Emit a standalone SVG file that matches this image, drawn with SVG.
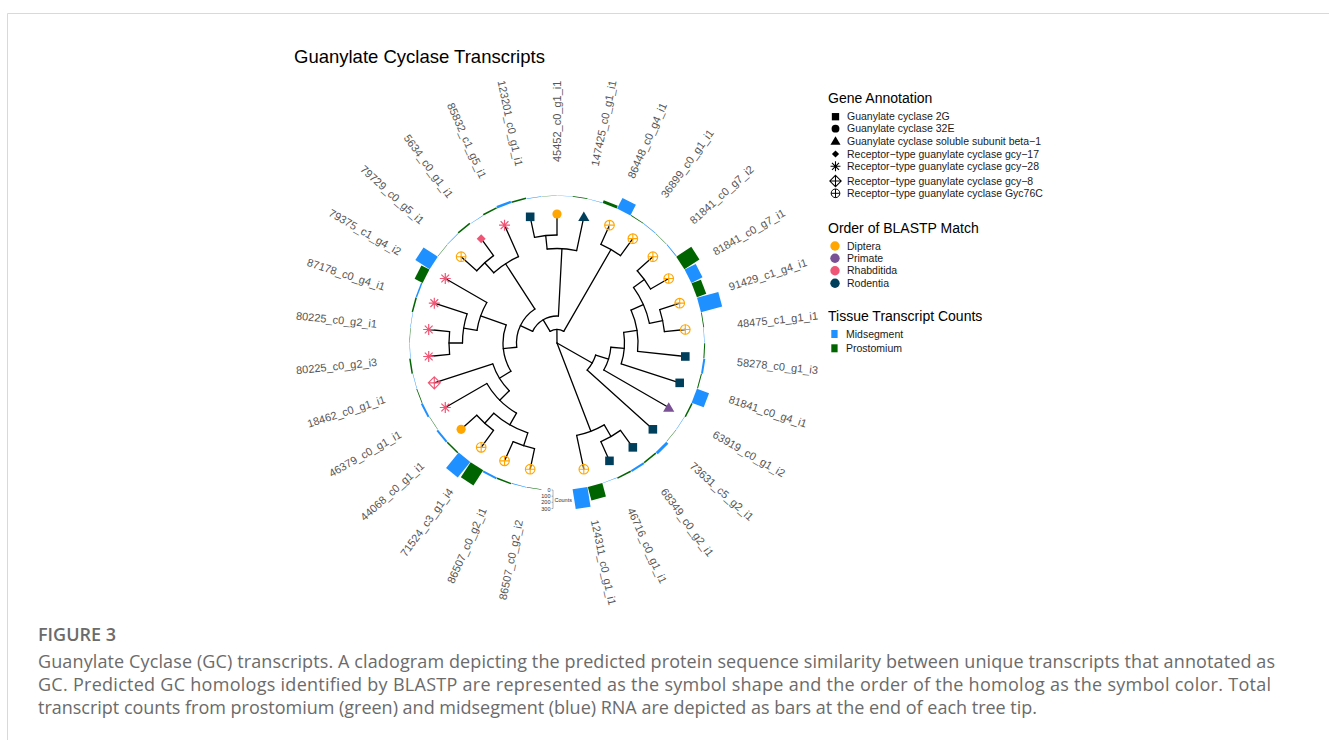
<svg xmlns="http://www.w3.org/2000/svg" xmlns:xlink="http://www.w3.org/1999/xlink" width="1329" height="740" viewBox="0 0 1329 740">
<style>
.br{stroke:#000;stroke-width:1.3;fill:none;stroke-linecap:round}
.lab{font-family:'Liberation Sans',Arial,sans-serif;font-size:11px;fill:#555}
.lg{font-family:'Liberation Sans',Arial,sans-serif;font-size:10.5px;fill:#1a1a1a}
.lt{font-family:'Liberation Sans',Arial,sans-serif;font-size:14px;fill:#000}
.cap{font-family:'Open Sans','Liberation Sans',sans-serif;font-size:18px;fill:#6b6b6b}
.mid{fill:#1E90FF}
.pro{fill:#006400}
.ax{font-family:'Liberation Sans',Arial,sans-serif;font-size:5.5px;fill:#333}
</style>
<defs>
<rect id="sq" x="-4.3" y="-4.3" width="8.6" height="8.6"/>
<circle id="ci" r="4.6"/>
<path id="tr" d="M0 -5.2L5.6 4.3H-5.6Z"/>
<path id="dm" d="M0 -4.5L4.5 0L0 4.5L-4.5 0Z"/>
<path id="st" fill="none" stroke-width="1.2" d="M-5.5 0H5.5M0 -5.5V5.5M-3.9 -3.9L3.9 3.9M-3.9 3.9L3.9 -3.9"/>
<path id="dp" fill="none" stroke-width="1.1" d="M0 -6L6 0L0 6L-6 0ZM-6 0H6M0 -6V6"/>
<g id="cp" fill="none" stroke-width="1.1"><circle r="4.8"/><path d="M-4.8 0H4.8M0 -4.8V4.8"/></g>
</defs>
<rect width="1329" height="740" fill="#fff"/>
<path d="M7.5 740V13.5H1329" fill="none" stroke="#d9d9d9" stroke-width="1"/>
<text x="294" y="63" font-family="'Liberation Sans',Arial,sans-serif" font-size="18.5" fill="#000">Guanylate Cyclase Transcripts</text>

<g id="connectors" transform="translate(557,343)">
<g class="br">
<line x1="0" x2="13.5" transform="rotate(269.625)"/>
<line x1="0" x2="40.5" transform="rotate(29.625)"/>
<line x1="0" x2="94.5" transform="rotate(69)"/>
<line x1="13.5" x2="27" transform="rotate(239.25)"/>
<line x1="13.5" x2="108" transform="rotate(300)"/>
<line x1="27" x2="40.5" transform="rotate(205.5)"/>
<line x1="27" x2="94.5" transform="rotate(273)"/>
<line x1="40.5" x2="54" transform="rotate(174)"/>
<line x1="40.5" x2="94.5" transform="rotate(237)"/>
<line x1="54" x2="81" transform="rotate(199.5)"/>
<line x1="54" x2="67.5" transform="rotate(148.5)"/>
<line x1="81" x2="94.5" transform="rotate(189)"/>
<line x1="81" x2="129" transform="rotate(210)"/>
<line x1="94.5" x2="108" transform="rotate(180)"/>
<line x1="94.5" x2="129" transform="rotate(198)"/>
<line x1="108" x2="129" transform="rotate(174)"/>
<line x1="108" x2="129" transform="rotate(186)"/>
<line x1="67.5" x2="129" transform="rotate(162)"/>
<line x1="67.5" x2="81" transform="rotate(135)"/>
<line x1="81" x2="129" transform="rotate(150)"/>
<line x1="81" x2="94.5" transform="rotate(120)"/>
<line x1="94.5" x2="108" transform="rotate(132)"/>
<line x1="94.5" x2="108" transform="rotate(108)"/>
<line x1="108" x2="129" transform="rotate(126)"/>
<line x1="108" x2="129" transform="rotate(138)"/>
<line x1="108" x2="129" transform="rotate(102)"/>
<line x1="108" x2="129" transform="rotate(114)"/>
<line x1="94.5" x2="108" transform="rotate(228)"/>
<line x1="94.5" x2="129" transform="rotate(246)"/>
<line x1="108" x2="129" transform="rotate(222)"/>
<line x1="108" x2="129" transform="rotate(234)"/>
<line x1="94.5" x2="108" transform="rotate(264)"/>
<line x1="94.5" x2="129" transform="rotate(282)"/>
<line x1="108" x2="129" transform="rotate(258)"/>
<line x1="108" x2="129" transform="rotate(270)"/>
<line x1="108" x2="129" transform="rotate(294)"/>
<line x1="108" x2="129" transform="rotate(306)"/>
<line x1="40.5" x2="54" transform="rotate(17.25)"/>
<line x1="40.5" x2="129" transform="rotate(42)"/>
<line x1="54" x2="67.5" transform="rotate(4.5)"/>
<line x1="54" x2="129" transform="rotate(30)"/>
<line x1="67.5" x2="81" transform="rotate(351)"/>
<line x1="67.5" x2="129" transform="rotate(18)"/>
<line x1="81" x2="94.5" transform="rotate(336)"/>
<line x1="81" x2="129" transform="rotate(6)"/>
<line x1="94.5" x2="108" transform="rotate(324)"/>
<line x1="94.5" x2="108" transform="rotate(348)"/>
<line x1="108" x2="129" transform="rotate(318)"/>
<line x1="108" x2="129" transform="rotate(330)"/>
<line x1="108" x2="129" transform="rotate(342)"/>
<line x1="108" x2="129" transform="rotate(354)"/>
<line x1="94.5" x2="108" transform="rotate(60)"/>
<line x1="94.5" x2="129" transform="rotate(78)"/>
<line x1="108" x2="129" transform="rotate(54)"/>
<line x1="108" x2="129" transform="rotate(66)"/>
<circle r="13.5" pathLength="360" stroke-dasharray="60.75 1000" transform="rotate(239.25)"/>
<circle r="27" pathLength="360" stroke-dasharray="67.5 1000" transform="rotate(205.5)"/>
<circle r="40.5" pathLength="360" stroke-dasharray="63 1000" transform="rotate(174)"/>
<circle r="54" pathLength="360" stroke-dasharray="51 1000" transform="rotate(148.5)"/>
<circle r="81" pathLength="360" stroke-dasharray="21 1000" transform="rotate(189)"/>
<circle r="94.5" pathLength="360" stroke-dasharray="18 1000" transform="rotate(180)"/>
<circle r="108" pathLength="360" stroke-dasharray="12 1000" transform="rotate(174)"/>
<circle r="67.5" pathLength="360" stroke-dasharray="27 1000" transform="rotate(135)"/>
<circle r="81" pathLength="360" stroke-dasharray="30 1000" transform="rotate(120)"/>
<circle r="94.5" pathLength="360" stroke-dasharray="24 1000" transform="rotate(108)"/>
<circle r="108" pathLength="360" stroke-dasharray="12 1000" transform="rotate(126)"/>
<circle r="108" pathLength="360" stroke-dasharray="12 1000" transform="rotate(102)"/>
<circle r="94.5" pathLength="360" stroke-dasharray="18 1000" transform="rotate(228)"/>
<circle r="108" pathLength="360" stroke-dasharray="12 1000" transform="rotate(222)"/>
<circle r="94.5" pathLength="360" stroke-dasharray="18 1000" transform="rotate(264)"/>
<circle r="108" pathLength="360" stroke-dasharray="12 1000" transform="rotate(258)"/>
<circle r="108" pathLength="360" stroke-dasharray="12 1000" transform="rotate(294)"/>
<circle r="40.5" pathLength="360" stroke-dasharray="24.75 1000" transform="rotate(17.25)"/>
<circle r="54" pathLength="360" stroke-dasharray="25.5 1000" transform="rotate(4.5)"/>
<circle r="67.5" pathLength="360" stroke-dasharray="27 1000" transform="rotate(351)"/>
<circle r="81" pathLength="360" stroke-dasharray="30 1000" transform="rotate(336)"/>
<circle r="94.5" pathLength="360" stroke-dasharray="24 1000" transform="rotate(324)"/>
<circle r="108" pathLength="360" stroke-dasharray="12 1000" transform="rotate(318)"/>
<circle r="108" pathLength="360" stroke-dasharray="12 1000" transform="rotate(342)"/>
<circle r="94.5" pathLength="360" stroke-dasharray="18 1000" transform="rotate(60)"/>
<circle r="108" pathLength="360" stroke-dasharray="12 1000" transform="rotate(54)"/>
</g>
</g>

<g id="bars" transform="translate(557,343)">
<rect class="pro" x="147" y="-7.5" width="1.5" height="15" transform="rotate(255)"/><rect class="mid" x="147" y="-7.5" width="0.4" height="15" transform="rotate(261)"/>
<rect class="pro" x="147" y="-7.5" width="0.4" height="15" transform="rotate(267)"/><rect class="mid" x="147" y="-7.5" width="0.4" height="15" transform="rotate(273)"/>
<rect class="pro" x="147" y="-7.5" width="0.7" height="15" transform="rotate(279)"/><rect class="mid" x="147" y="-7.5" width="0.4" height="15" transform="rotate(285)"/>
<rect class="pro" x="147" y="-7.5" width="3" height="15" transform="rotate(291)"/><rect class="mid" x="147" y="-7.5" width="12" height="15" transform="rotate(297)"/>
<rect class="pro" x="147" y="-7.5" width="0.8" height="15" transform="rotate(303)"/><rect class="mid" x="147" y="-7.5" width="0.6" height="15" transform="rotate(309)"/>
<rect class="pro" x="147" y="-7.5" width="0.4" height="15" transform="rotate(315)"/><rect class="mid" x="147" y="-7.5" width="0.8" height="15" transform="rotate(321)"/>
<rect class="pro" x="147" y="-7.5" width="18" height="15" transform="rotate(327)"/><rect class="mid" x="147" y="-7.5" width="12.5" height="15" transform="rotate(333)"/>
<rect class="pro" x="147" y="-7.5" width="10" height="15" transform="rotate(339)"/><rect class="mid" x="147" y="-7.5" width="22" height="15" transform="rotate(345)"/>
<rect class="pro" x="147" y="-7.5" width="0.8" height="15" transform="rotate(351)"/><rect class="mid" x="147" y="-7.5" width="0.4" height="15" transform="rotate(357)"/>
<rect class="pro" x="147" y="-7.5" width="1" height="15" transform="rotate(3)"/><rect class="mid" x="147" y="-7.5" width="2" height="15" transform="rotate(9)"/>
<rect class="pro" x="147" y="-7.5" width="1" height="15" transform="rotate(15)"/><rect class="mid" x="147" y="-7.5" width="13" height="15" transform="rotate(21)"/>
<rect class="pro" x="147" y="-7.5" width="1.5" height="15" transform="rotate(27)"/><rect class="mid" x="147" y="-7.5" width="0.4" height="15" transform="rotate(33)"/>
<rect class="pro" x="147" y="-7.5" width="0.4" height="15" transform="rotate(39)"/><rect class="mid" x="147" y="-7.5" width="3" height="15" transform="rotate(45)"/>
<rect class="pro" x="147" y="-7.5" width="1.5" height="15" transform="rotate(51)"/><rect class="mid" x="147" y="-7.5" width="2" height="15" transform="rotate(57)"/>
<rect class="pro" x="147" y="-7.5" width="1.5" height="15" transform="rotate(63)"/><rect class="mid" x="147" y="-7.5" width="0.4" height="15" transform="rotate(69)"/>
<rect class="pro" x="147" y="-7.5" width="14" height="15" transform="rotate(75)"/><rect class="mid" x="147" y="-7.5" width="20" height="15" transform="rotate(81)"/>
<rect class="pro" x="147" y="-7.5" width="0.4" height="15" transform="rotate(99)"/><rect class="mid" x="147" y="-7.5" width="0.6" height="15" transform="rotate(105)"/>
<rect class="pro" x="147" y="-7.5" width="1.5" height="15" transform="rotate(111)"/><rect class="mid" x="147" y="-7.5" width="2" height="15" transform="rotate(117)"/>
<rect class="pro" x="147" y="-7.5" width="18" height="15" transform="rotate(123)"/><rect class="mid" x="147" y="-7.5" width="20" height="15" transform="rotate(129)"/>
<rect class="pro" x="147" y="-7.5" width="1.5" height="15" transform="rotate(135)"/><rect class="mid" x="147" y="-7.5" width="2" height="15" transform="rotate(141)"/>
<rect class="pro" x="147" y="-7.5" width="0.4" height="15" transform="rotate(147)"/><rect class="mid" x="147" y="-7.5" width="2" height="15" transform="rotate(153)"/>
<rect class="pro" x="147" y="-7.5" width="0.8" height="15" transform="rotate(159)"/><rect class="mid" x="147" y="-7.5" width="0.4" height="15" transform="rotate(165)"/>
<rect class="pro" x="147" y="-7.5" width="1.5" height="15" transform="rotate(171)"/><rect class="mid" x="147" y="-7.5" width="0.4" height="15" transform="rotate(177)"/>
<rect class="pro" x="147" y="-7.5" width="0.4" height="15" transform="rotate(183)"/><rect class="mid" x="147" y="-7.5" width="0.4" height="15" transform="rotate(189)"/>
<rect class="pro" x="147" y="-7.5" width="1.5" height="15" transform="rotate(195)"/><rect class="mid" x="147" y="-7.5" width="1.5" height="15" transform="rotate(201)"/>
<rect class="pro" x="147" y="-7.5" width="9" height="15" transform="rotate(207)"/><rect class="mid" x="147" y="-7.5" width="17" height="15" transform="rotate(213)"/>
<rect class="pro" x="147" y="-7.5" width="0.4" height="15" transform="rotate(219)"/><rect class="mid" x="147" y="-7.5" width="0.6" height="15" transform="rotate(225)"/>
<rect class="pro" x="147" y="-7.5" width="1.5" height="15" transform="rotate(231)"/><rect class="mid" x="147" y="-7.5" width="0.4" height="15" transform="rotate(237)"/>
<rect class="pro" x="147" y="-7.5" width="1.5" height="15" transform="rotate(243)"/><rect class="mid" x="147" y="-7.5" width="2.5" height="15" transform="rotate(249)"/>
</g>

<g id="axis">
<path d="M553 490V508.5M551.5 490H553M551.5 496.2H553M551.5 502.3H553M551.5 508.5H553" stroke="#444" stroke-width="0.4" fill="none"/>
<text class="ax" x="550.5" y="492" text-anchor="end">0</text>
<text class="ax" x="550.5" y="498.2" text-anchor="end">100</text>
<text class="ax" x="550.5" y="504.3" text-anchor="end">200</text>
<text class="ax" x="550.5" y="510.5" text-anchor="end">300</text>
<text class="ax" x="554.5" y="501.5" font-size="6">Counts</text>
</g>

<g id="tips" transform="translate(557,343)">
<g id="tip0"><use href="#sq" fill="#003f5c" transform="rotate(258) translate(129) rotate(-258)"/><text class="lab" dy=".35em" text-anchor="end" transform="rotate(258) translate(181) rotate(180)">123201_c0_g1_i1</text></g>
<g id="tip1"><use href="#ci" fill="#ffa600" transform="rotate(270) translate(129) rotate(-270)"/><text class="lab" dy=".35em" transform="rotate(270) translate(181)">45452_c0_g1_i1</text></g>
<g id="tip2"><use href="#tr" fill="#003f5c" transform="rotate(282) translate(129) rotate(-282)"/><text class="lab" dy=".35em" transform="rotate(282) translate(181)">147425_c0_g1_i1</text></g>
<g id="tip3"><use href="#cp" stroke="#ffa600" transform="rotate(294) translate(129) rotate(-294)"/><text class="lab" dy=".35em" transform="rotate(294) translate(181)">86448_c0_g4_i1</text></g>
<g id="tip4"><use href="#cp" stroke="#ffa600" transform="rotate(306) translate(129) rotate(-306)"/><text class="lab" dy=".35em" transform="rotate(306) translate(181)">36899_c0_g1_i1</text></g>
<g id="tip5"><use href="#cp" stroke="#ffa600" transform="rotate(318) translate(129) rotate(-318)"/><text class="lab" dy=".35em" transform="rotate(318) translate(181)">81841_c0_g7_i2</text></g>
<g id="tip6"><use href="#cp" stroke="#ffa600" transform="rotate(330) translate(129) rotate(-330)"/><text class="lab" dy=".35em" transform="rotate(330) translate(181)">81841_c0_g7_i1</text></g>
<g id="tip7"><use href="#cp" stroke="#ffa600" transform="rotate(342) translate(129) rotate(-342)"/><text class="lab" dy=".35em" transform="rotate(342) translate(181)">91429_c1_g4_i1</text></g>
<g id="tip8"><use href="#cp" stroke="#ffa600" transform="rotate(354) translate(129) rotate(-354)"/><text class="lab" dy=".35em" transform="rotate(354) translate(181)">48475_c1_g1_i1</text></g>
<g id="tip9"><use href="#sq" fill="#003f5c" transform="rotate(6) translate(129) rotate(-6)"/><text class="lab" dy=".35em" transform="rotate(6) translate(181)">58278_c0_g1_i3</text></g>
<g id="tip10"><use href="#sq" fill="#003f5c" transform="rotate(18) translate(129) rotate(-18)"/><text class="lab" dy=".35em" transform="rotate(18) translate(181)">81841_c0_g4_i1</text></g>
<g id="tip11"><use href="#tr" fill="#7a5195" transform="rotate(30) translate(129) rotate(-30)"/><text class="lab" dy=".35em" transform="rotate(30) translate(181)">63919_c0_g1_i2</text></g>
<g id="tip12"><use href="#sq" fill="#003f5c" transform="rotate(42) translate(129) rotate(-42)"/><text class="lab" dy=".35em" transform="rotate(42) translate(181)">73631_c5_g2_i1</text></g>
<g id="tip13"><use href="#sq" fill="#003f5c" transform="rotate(54) translate(129) rotate(-54)"/><text class="lab" dy=".35em" transform="rotate(54) translate(181)">68349_c0_g2_i1</text></g>
<g id="tip14"><use href="#sq" fill="#003f5c" transform="rotate(66) translate(129) rotate(-66)"/><text class="lab" dy=".35em" transform="rotate(66) translate(181)">46716_c0_g1_i1</text></g>
<g id="tip15"><use href="#cp" stroke="#ffa600" transform="rotate(78) translate(129) rotate(-78)"/><text class="lab" dy=".35em" transform="rotate(78) translate(181)">124311_c0_g1_i1</text></g>
<g id="tip17"><use href="#cp" stroke="#ffa600" transform="rotate(102) translate(129) rotate(-102)"/><text class="lab" dy=".35em" text-anchor="end" transform="rotate(102) translate(181) rotate(180)">86507_c0_g2_i2</text></g>
<g id="tip18"><use href="#cp" stroke="#ffa600" transform="rotate(114) translate(129) rotate(-114)"/><text class="lab" dy=".35em" text-anchor="end" transform="rotate(114) translate(181) rotate(180)">86507_c0_g2_i1</text></g>
<g id="tip19"><use href="#cp" stroke="#ffa600" transform="rotate(126) translate(129) rotate(-126)"/><text class="lab" dy=".35em" text-anchor="end" transform="rotate(126) translate(181) rotate(180)">71524_c3_g1_i4</text></g>
<g id="tip20"><use href="#ci" fill="#ffa600" transform="rotate(138) translate(129) rotate(-138)"/><text class="lab" dy=".35em" text-anchor="end" transform="rotate(138) translate(181) rotate(180)">44068_c0_g1_i1</text></g>
<g id="tip21"><use href="#st" stroke="#ef5675" transform="rotate(150) translate(129) rotate(-150)"/><text class="lab" dy=".35em" text-anchor="end" transform="rotate(150) translate(181) rotate(180)">46379_c0_g1_i1</text></g>
<g id="tip22"><use href="#dp" stroke="#ef5675" transform="rotate(162) translate(129) rotate(-162)"/><text class="lab" dy=".35em" text-anchor="end" transform="rotate(162) translate(181) rotate(180)">18462_c0_g1_i1</text></g>
<g id="tip23"><use href="#st" stroke="#ef5675" transform="rotate(174) translate(129) rotate(-174)"/><text class="lab" dy=".35em" text-anchor="end" transform="rotate(174) translate(181) rotate(180)">80225_c0_g2_i3</text></g>
<g id="tip24"><use href="#st" stroke="#ef5675" transform="rotate(186) translate(129) rotate(-186)"/><text class="lab" dy=".35em" text-anchor="end" transform="rotate(186) translate(181) rotate(180)">80225_c0_g2_i1</text></g>
<g id="tip25"><use href="#st" stroke="#ef5675" transform="rotate(198) translate(129) rotate(-198)"/><text class="lab" dy=".35em" text-anchor="end" transform="rotate(198) translate(181) rotate(180)">87178_c0_g4_i1</text></g>
<g id="tip26"><use href="#st" stroke="#ef5675" transform="rotate(210) translate(129) rotate(-210)"/><text class="lab" dy=".35em" text-anchor="end" transform="rotate(210) translate(181) rotate(180)">79375_c1_g4_i2</text></g>
<g id="tip27"><use href="#cp" stroke="#ffa600" transform="rotate(222) translate(129) rotate(-222)"/><text class="lab" dy=".35em" text-anchor="end" transform="rotate(222) translate(181) rotate(180)">79729_c0_g5_i1</text></g>
<g id="tip28"><use href="#dm" fill="#ef5675" transform="rotate(234) translate(129) rotate(-234)"/><text class="lab" dy=".35em" text-anchor="end" transform="rotate(234) translate(181) rotate(180)">5634_c0_g1_i1</text></g>
<g id="tip29"><use href="#st" stroke="#ef5675" transform="rotate(246) translate(129) rotate(-246)"/><text class="lab" dy=".35em" text-anchor="end" transform="rotate(246) translate(181) rotate(180)">85832_c1_g5_i1</text></g>
</g>

<g id="legend">
<text class="lt" x="828" y="103">Gene Annotation</text>
<use href="#sq" fill="#000" transform="translate(835.5,116.7) scale(0.85)"/><text class="lg" x="847" y="120.3">Guanylate cyclase 2G</text>
<use href="#ci" fill="#000" transform="translate(835.5,128.7) scale(0.85)"/><text class="lg" x="847" y="132.3">Guanylate cyclase 32E</text>
<use href="#tr" fill="#000" transform="translate(835.5,141) scale(0.9)"/><text class="lg" x="847" y="144.6">Guanylate cyclase soluble subunit beta−1</text>
<use href="#dm" fill="#000" transform="translate(835.5,154) scale(0.8)"/><text class="lg" x="847" y="157.6">Receptor−type guanylate cyclase gcy−17</text>
<use href="#st" stroke="#000" transform="translate(835.5,166.3) scale(0.9)"/><text class="lg" x="847" y="169.9">Receptor−type guanylate cyclase gcy−28</text>
<use href="#dp" stroke="#000" transform="translate(835.5,181) scale(0.95)"/><text class="lg" x="847" y="184.6">Receptor−type guanylate cyclase gcy−8</text>
<use href="#cp" stroke="#000" transform="translate(835.5,193.3) scale(0.9)"/><text class="lg" x="847" y="196.9">Receptor−type guanylate cyclase Gyc76C</text>
<text class="lt" x="828" y="233">Order of BLASTP Match</text>
<circle cx="835" cy="246" r="4.7" fill="#ffa600"/><text class="lg" x="847" y="249.6">Diptera</text>
<circle cx="835" cy="258.3" r="4.7" fill="#7a5195"/><text class="lg" x="847" y="261.9">Primate</text>
<circle cx="835" cy="270.7" r="4.7" fill="#ef5675"/><text class="lg" x="847" y="274.3">Rhabditida</text>
<circle cx="835" cy="283.3" r="4.7" fill="#003f5c"/><text class="lg" x="847" y="286.9">Rodentia</text>
<text class="lt" x="828" y="320.5">Tissue Transcript Counts</text>
<rect x="831.3" y="330" width="6.3" height="8" class="mid"/><text class="lg" x="846" y="337.6">Midsegment</text>
<rect x="831.3" y="344.3" width="6.3" height="8" class="pro"/><text class="lg" x="846" y="351.9">Prostomium</text>
</g>

<g id="caption">
<text class="cap" x="38" y="641" font-size="14.5" font-weight="600" fill="#555">FIGURE 3</text>
<text class="cap" x="38" y="668" textLength="1237">Guanylate Cyclase (GC) transcripts. A cladogram depicting the predicted protein sequence similarity between unique transcripts that annotated as</text>
<text class="cap" x="38" y="691" textLength="1233">GC. Predicted GC homologs identified by BLASTP are represented as the symbol shape and the order of the homolog as the symbol color. Total</text>
<text class="cap" x="38" y="714" textLength="999">transcript counts from prostomium (green) and midsegment (blue) RNA are depicted as bars at the end of each tree tip.</text>
</g>
</svg>
